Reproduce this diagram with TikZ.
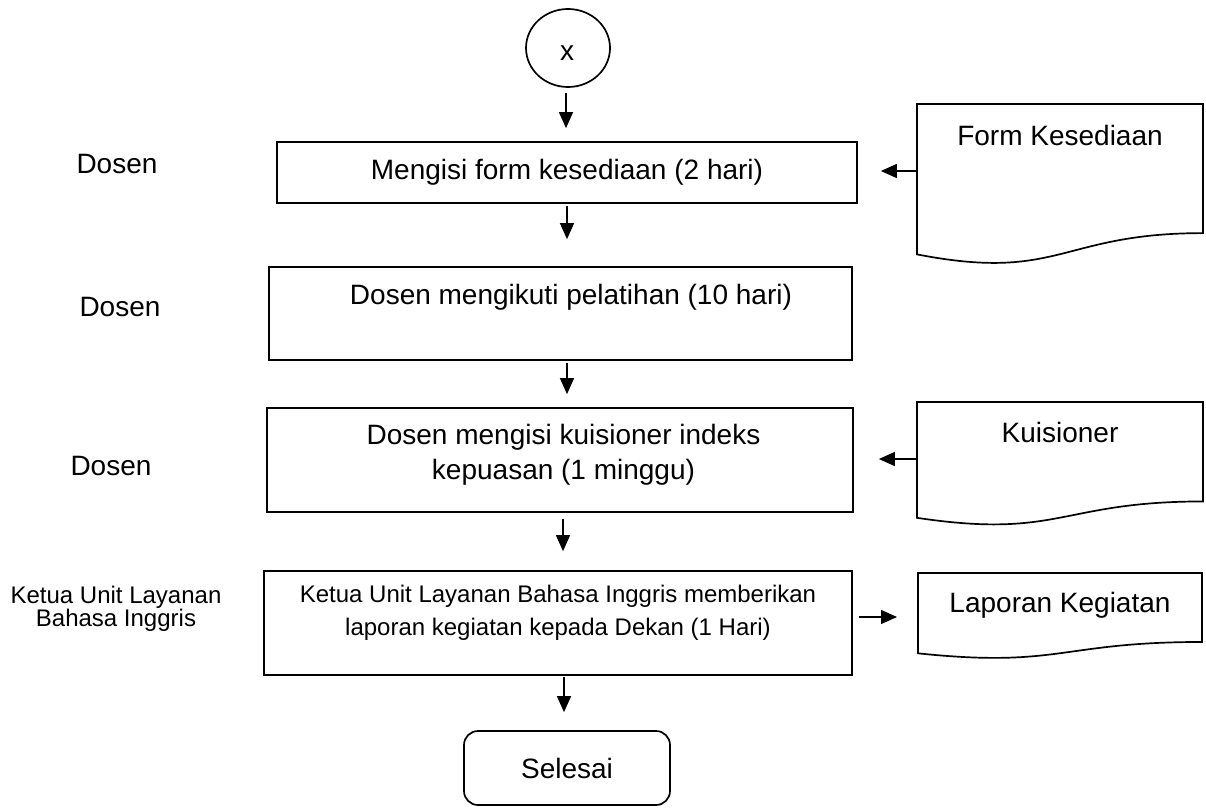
\documentclass[tikz,border=0pt]{standalone}
\usepackage{fontspec}
\setmainfont{Liberation Sans}
\usetikzlibrary{arrows.meta,shapes.geometric,calc}
\newcommand{\flowdoc}[4]{% x1, x2, top, h
  \draw[line] (#1,#3) -- (#2,#3) -- (#2,{#3-0.802*#4})
    .. controls ({(#1+#2)/2},{#3-0.802*#4}) and ({(#1+#2)/2},{#3-1.107*#4}) ..
    (#1,{#3-0.934*#4}) -- cycle;}
\begin{document}
\begin{tikzpicture}[x=1pt,y=1pt,
  line/.style={draw=black, line width=1.7pt},
  box/.style={line, rectangle, inner sep=0pt},
  arr/.style={draw=black, line width=1.3pt, -{Triangle[length=16pt,width=14pt]}},
  big/.style={font=\fontsize{28}{35}\selectfont, align=center, inner sep=0pt},
  small/.style={font=\fontsize{24}{33}\selectfont, align=center, inner sep=0pt},
]
\useasboundingbox (0,0) rectangle (1206,807);

% start connector
\node[line, ellipse, minimum width=84pt, minimum height=78pt, inner sep=0pt] (x) at (568,759) {};
\node[big] (xt) at (567,754) {x};

% process boxes
\node[box, minimum width=580pt, minimum height=61pt, big] (b1) at (567,634.5) {Mengisi form kesediaan (2 hari)};
\node[box, minimum width=583pt, minimum height=93pt] (b2) at (560.5,493.5) {};
\node[big] (t2) at (571,510) {Dosen mengikuti pelatihan (10 hari)};
\node[box, minimum width=586pt, minimum height=104pt] (b3) at (560,347) {};
\node[big] (t3) at (563.5,352.5) {Dosen mengisi kuisioner indeks\\kepuasan (1 minggu)};
\node[box, minimum width=588pt, minimum height=104pt] (b4) at (558,184) {};
\node[small] (t4) at (558,194.5) {Ketua Unit Layanan Bahasa Inggris memberikan\\laporan kegiatan kepada Dekan (1 Hari)};
\node[box, rounded corners=14pt, minimum width=206pt, minimum height=74pt, big] (sel) at (567,39) {Selesai};

% actors
\node[big] (l1) at (117,643) {Dosen};
\node[big] (l2) at (120,500) {Dosen};
\node[big] (l3) at (111,341) {Dosen};
\node[small, font=\fontsize{24}{23}\selectfont] (l4) at (116,198.5) {Ketua Unit Layanan\\Bahasa Inggris};

% documents
\flowdoc{917}{1203}{703}{161}
\flowdoc{917}{1203}{405}{124}
\flowdoc{918}{1202}{234}{86}
\node[big] (dt1) at (1060,672) {Form Kesediaan};
\node[big] (dt2) at (1060,375) {Kuisioner};
\node[big] (dt3) at (1060,202) {Laporan Kegiatan};
\coordinate (d1w) at (917,636);
\coordinate (d2w) at (917,348);
\coordinate (d3w) at (918,190);

% vertical arrows
\coordinate (a0) at ($(x.south)+(-2,0)$);
\coordinate (a1) at (b1.south);
\coordinate (a2) at ($(b2.south)+(6.5,0)$);
\coordinate (a3) at ($(b3.south)+(3,0)$);
\coordinate (a4) at ($(b4.south)+(6,0)$);
\draw[arr, shorten <=5pt, shorten >=13pt] (a0) -- (a0 |- b1.north);
\draw[arr, shorten <=2pt, shorten >=27pt] (a1) -- (a1 |- b2.north);
\draw[arr, shorten <=2pt, shorten >=13pt] (a2) -- (a2 |- b3.north);
\draw[arr, shorten <=6pt, shorten >=19pt] (a3) -- (a3 |- b4.north);
\draw[arr, shorten <=1pt, shorten >=18pt] (a4) -- (a4 |- sel.north);

% horizontal arrows
\draw[arr, shorten >=23pt] (d1w) -- (d1w -| b1.east);
\draw[arr, shorten >=25pt] (d2w) -- (d2w -| b3.east);
\draw[arr, shorten <=6pt, shorten >=21pt] (d3w -| b4.east) -- (d3w);
\end{tikzpicture}
\end{document}
